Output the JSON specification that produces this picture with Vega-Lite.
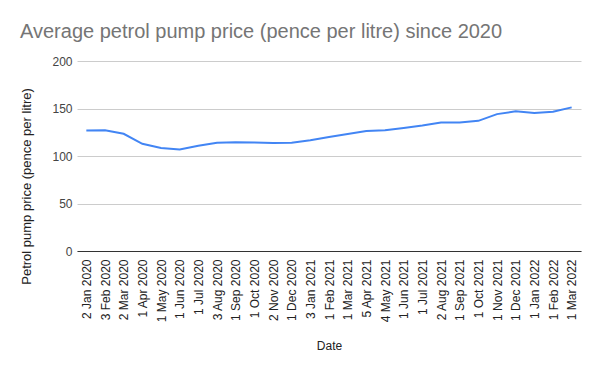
{
  "$schema": "https://vega.github.io/schema/vega-lite/v6.json",
  "width": 504,
  "height": 190,
  "autosize": {"type": "none"},
  "padding": {"left": 77, "top": 61, "right": 19, "bottom": 120},
  "background": "white",
  "config": {
    "font": "Liberation Sans",
    "view": {"stroke": null}
  },
  "title": {
    "text": "Average petrol pump price (pence per litre) since 2020",
    "anchor": "start",
    "frame": "group",
    "dx": -57,
    "offset": 13,
    "fontSize": 20,
    "fontWeight": "normal",
    "color": "#757575",
    "font": "Liberation Sans"
  },
  "data": {
    "values": [
      {"Date": "2 Jan 2020", "price": 126.8},
      {"Date": "3 Feb 2020", "price": 127.0},
      {"Date": "2 Mar 2020", "price": 123.4},
      {"Date": "1 Apr 2020", "price": 112.8},
      {"Date": "1 May 2020", "price": 108.4},
      {"Date": "1 Jun 2020", "price": 106.8},
      {"Date": "1 Jul 2020", "price": 110.8},
      {"Date": "3 Aug 2020", "price": 113.9},
      {"Date": "1 Sep 2020", "price": 114.5},
      {"Date": "1 Oct 2020", "price": 114.3},
      {"Date": "2 Nov 2020", "price": 113.7},
      {"Date": "1 Dec 2020", "price": 114.0},
      {"Date": "3 Jan 2021", "price": 116.6},
      {"Date": "1 Feb 2021", "price": 120.1},
      {"Date": "1 Mar 2021", "price": 123.2},
      {"Date": "5 Apr 2021", "price": 126.2},
      {"Date": "4 May 2021", "price": 127.0},
      {"Date": "1 Jun 2021", "price": 129.5},
      {"Date": "1 Jul 2021", "price": 132.0},
      {"Date": "2 Aug 2021", "price": 135.2},
      {"Date": "1 Sep 2021", "price": 135.3},
      {"Date": "1 Oct 2021", "price": 137.0},
      {"Date": "1 Nov 2021", "price": 144.1},
      {"Date": "1 Dec 2021", "price": 147.0},
      {"Date": "1 Jan 2022", "price": 145.3},
      {"Date": "1 Feb 2022", "price": 146.6},
      {"Date": "1 Mar 2022", "price": 151.2}
    ]
  },
  "mark": {"type": "line", "color": "#4285F4", "strokeWidth": 2},
  "encoding": {
    "x": {
      "field": "Date",
      "type": "ordinal",
      "sort": null,
      "scale": {"type": "point", "padding": 0.5},
      "axis": {
        "title": "Date",
        "titleFontSize": 12,
        "titleFontWeight": "normal",
        "titleColor": "#222222",
        "titleY": 98,
        "titleBaseline": "alphabetic",
        "labelAngle": 270,
        "labelFontSize": 12,
        "labelColor": "#222222",
        "labelPadding": 8,
        "ticks": false,
        "grid": false,
        "domainColor": "#333333",
        "domainWidth": 1,
        "labelOverlap": false
      }
    },
    "y": {
      "field": "price",
      "type": "quantitative",
      "scale": {"domain": [0, 200], "nice": false},
      "axis": {
        "title": "Petrol pump price (pence per litre)",
        "titleFontSize": 13,
        "titleFontWeight": "normal",
        "titleColor": "#222222",
        "titleX": -44,
        "titleY": 125,
        "values": [0, 50, 100, 150, 200],
        "labelFontSize": 12,
        "labelColor": "#444444",
        "labelPadding": 5,
        "ticks": false,
        "domain": false,
        "gridColor": "#cccccc",
        "gridWidth": 1
      }
    }
  }
}
